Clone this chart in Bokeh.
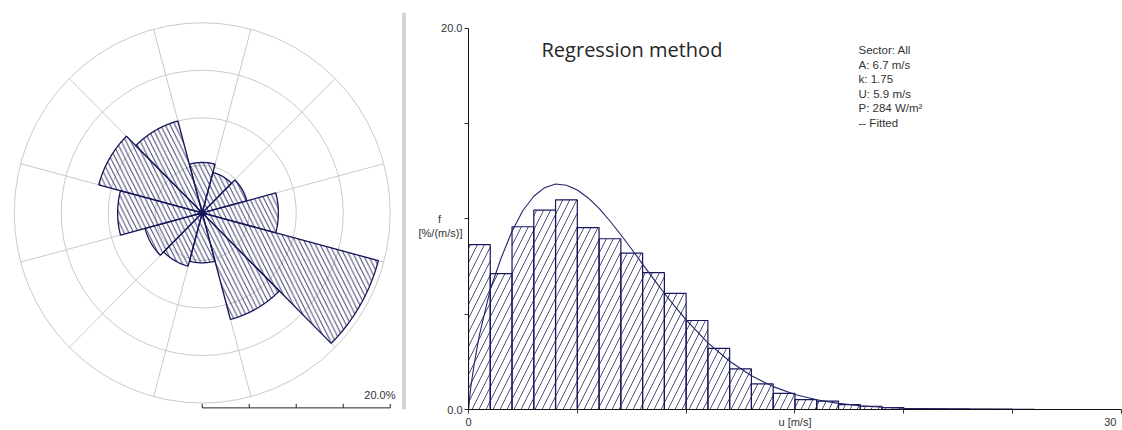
import numpy as np
from bokeh.plotting import figure
from bokeh.layouts import row
from bokeh.models import Range1d, FixedTicker
from bokeh.core.properties import value
from bokeh.embed import file_html
from bokeh.resources import INLINE

# ---------------- data ----------------
# wind rose: sector centre directions (deg, clockwise from N) and frequency (%)
sector_dirs = [0, 30, 60, 90, 120, 150, 180, 210, 240, 270, 300, 330]
sector_freq = [5.3, 4.4, 4.9, 8.1, 19.4, 11.6, 5.25, 5.8, 6.3, 9.0, 11.4, 10.0]
rose_rings = [5, 10, 15, 20]
rose_scale_ticks = [0, 5, 10, 15, 20]
rose_scale_label = "20.0%"

# histogram: 1 m/s bins starting at 0, frequency in %/(m/s)
bin_left = list(range(0, 26))
bin_freq = [8.65, 7.13, 9.59, 10.46, 11.0, 9.54, 8.96, 8.20, 7.18, 6.09,
            4.67, 3.21, 2.13, 1.34, 0.85, 0.52, 0.44, 0.26, 0.17, 0.10,
            0.05, 0.04, 0.03, 0.02, 0.02, 0.01]

# fitted curve
fit_u = [0, 0.1, 0.25, 0.5, 1, 1.5, 2, 2.5, 3, 3.5,
         4, 4.5, 5, 5.5, 6, 6.5, 7, 7.5, 8, 8.5,
         9, 9.5, 10, 11, 12, 13, 14, 15, 16, 17,
         18, 19, 20, 22, 25]
fit_f = [0, 1.12, 2.3, 3.9, 6.3, 7.95, 9.35, 10.44, 11.19, 11.64,
         11.83, 11.77, 11.52, 11.10, 10.55, 9.89, 9.17, 8.41, 7.63, 6.85,
         6.10, 5.38, 4.70, 3.50, 2.53, 1.77, 1.20, 0.79, 0.51, 0.32,
         0.195, 0.115, 0.066, 0.02, 0.003]

NB = "\u00a0"
y_name = NB + "\nf" + NB * 7 + "\n[%/(m/s)]"
y_ticks = [0, 5, 10, 15, 20]
y_tick_labels = {0: "0.0", 5: "", 10: y_name, 15: "", 20: "20.0"}
x_ticks = [0, 5, 10, 15, 20, 25, 30]
x_tick_labels = {0: "0", 5: "", 10: "", 15: "u [m/s]", 20: "", 25: "",
                 30: "30" + NB * 2}
title_text = "Regression method"
stats_lines = ["Sector: All", "A: 6.7 m/s", "k: 1.75", "U: 5.9 m/s",
               "P: 284 W/m\u00b2", "-- Fitted"]

NAVY = "#16165c"
GRID = "#c9c9c9"
TXT = "#333333"
FONT = "Liberation Sans"

# ---------------- wind rose ----------------
p1 = figure(width=406, height=430, x_range=Range1d(-21.46, 21.73),
            y_range=Range1d(-20.67, 22.33), output_backend="svg",
            toolbar_location=None, min_border=0,
            x_axis_location=None, y_axis_location=None)
p1.grid.visible = False
p1.outline_line_color = None
p1.background_fill_color = "white"

# rings
p1.ellipse(x=[0] * len(rose_rings), y=[0] * len(rose_rings),
           width=[2 * r for r in rose_rings], height=[2 * r for r in rose_rings],
           fill_color=None, line_color=GRID, line_width=1)
# spokes on sector boundaries
rmax = rose_rings[-1]
bnd = np.radians(np.array(sector_dirs) + 15)
p1.segment(x0=[0] * len(bnd), y0=[0] * len(bnd),
           x1=(rmax * np.sin(bnd)).tolist(), y1=(rmax * np.cos(bnd)).tolist(),
           line_color=GRID, line_width=1)

xs, ys = [], []
for d, f in zip(sector_dirs, sector_freq):
    a = np.radians(np.linspace(d - 15, d + 15, 31))
    xs.append([0.0] + (f * np.sin(a)).tolist())
    ys.append([0.0] + (f * np.cos(a)).tolist())
p1.patches(xs, ys, fill_alpha=0, hatch_pattern="\\", hatch_color="#40406c",
           hatch_scale=9.5, hatch_weight=1, line_color=NAVY, line_width=1.3)
p1.scatter(x=[0], y=[0], size=6, color=NAVY)

# scale bar
yb = -20.5
p1.segment(x0=[rose_scale_ticks[0]], y0=[yb], x1=[rose_scale_ticks[-1]], y1=[yb],
           line_color="#222222", line_width=1)
p1.segment(x0=rose_scale_ticks, y0=[yb] * len(rose_scale_ticks),
           x1=rose_scale_ticks, y1=[yb + 0.42] * len(rose_scale_ticks),
           line_color="#222222", line_width=1)
p1.text(x=[20.56], y=[-19.75], text=[rose_scale_label], text_align="right",
        text_baseline="bottom", text_font=value(FONT), text_font_size="11px",
        text_color=TXT)
# panel separator
p1.segment(x0=[21.47], y0=[21.03], x1=[21.47], y1=[-20.67],
           line_color="#d2d2d2", line_width=4)

# ---------------- histogram ----------------
p2 = figure(width=716, height=430, x_range=Range1d(0, 30.05),
            y_range=Range1d(0, 21.46), output_backend="svg",
            toolbar_location=None, min_border_left=62, min_border_bottom=19,
            min_border_top=0, min_border_right=0)
p2.grid.visible = False
p2.outline_line_color = None

p2.quad(left=bin_left, right=[b + 1 for b in bin_left], bottom=0, top=bin_freq,
        fill_alpha=0, hatch_pattern="/", hatch_color="#50507a", hatch_scale=14,
        hatch_weight=1, line_color=NAVY, line_width=1.2)
p2.line(fit_u, fit_f, line_color="#23236a", line_width=1.1)

for ax in (p2.xaxis[0], p2.yaxis[0]):
    ax.axis_line_color = "#111111"
    ax.major_tick_line_color = "#333333"
    ax.minor_tick_line_color = None
    ax.major_tick_in = 0
    ax.major_tick_out = 4
    ax.major_label_text_font = FONT
    ax.major_label_text_font_size = "11px"
    ax.major_label_text_color = TXT
    ax.major_label_standoff = 2
p2.xaxis.ticker = FixedTicker(ticks=x_ticks)
p2.xaxis.major_label_overrides = x_tick_labels
p2.xaxis.bounds = (0, 30)
p2.yaxis.ticker = FixedTicker(ticks=y_ticks)
p2.yaxis.major_label_overrides = y_tick_labels
p2.yaxis.bounds = (0, 20)

p2.text(x=[7.51], y=[18.9], text=[title_text], text_align="center",
        text_baseline="middle", text_font=value("Open Sans"),
        text_font_size="20px", text_color="#262626")
p2.text(x=[17.92] * len(stats_lines),
        y=[18.85 - 0.762 * i for i in range(len(stats_lines))],
        text=stats_lines, text_align="left", text_baseline="middle",
        text_font=value(FONT), text_font_size="11.5px", text_color=TXT)

layout = row(p1, p2)
open("out.html", "w").write(file_html(layout, INLINE))
